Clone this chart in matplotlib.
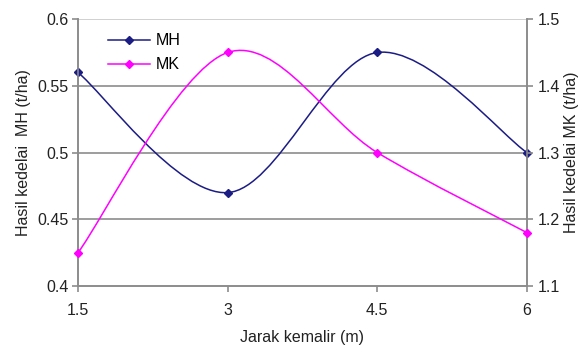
import matplotlib
matplotlib.use("Agg")
import matplotlib.pyplot as plt
from matplotlib.path import Path
from matplotlib.patches import PathPatch
from matplotlib.lines import Line2D

plt.rcParams['font.family'] = ['Liberation Sans', 'DejaVu Sans']

jarak = ["1.5", "3", "4.5", "6"]
mh = [0.56, 0.47, 0.575, 0.50]
mk = [1.15, 1.45, 1.30, 1.18]

MH_COLOR = "#1c1c85"
MK_COLOR = "#ff00ff"
GRID = "#8c8c8c"
FS = 11.5


def smooth_path(xs, ys):
    # Excel-like smoothed line: Catmull-Rom segments as cubic Bezier
    pts = list(zip(xs, ys))
    verts = [pts[0]]
    codes = [Path.MOVETO]
    n = len(pts)
    for i in range(n - 1):
        p0 = pts[i - 1] if i > 0 else pts[i]
        p1 = pts[i]
        p2 = pts[i + 1]
        p3 = pts[i + 2] if i + 2 < n else pts[i + 1]
        c1 = (p1[0] + (p2[0] - p0[0]) / 6, p1[1] + (p2[1] - p0[1]) / 6)
        c2 = (p2[0] - (p3[0] - p1[0]) / 6, p2[1] - (p3[1] - p1[1]) / 6)
        verts += [c1, c2, p2]
        codes += [Path.CURVE4] * 3
    return Path(verts, codes)


fig = plt.figure(figsize=(5.8, 3.54), dpi=100)
ax = fig.add_axes([0.1345, 0.192, 0.774, 0.754])
ax2 = ax.twinx()

x = list(range(len(jarak)))

ax.add_patch(PathPatch(smooth_path(x, mh), fc="none", ec=MH_COLOR, lw=1.1, zorder=3))
ax.plot(x, mh, ls="none", marker="D", ms=4.3, color=MH_COLOR, zorder=4, clip_on=False)
ax2.add_patch(PathPatch(smooth_path(x, mk), fc="none", ec=MK_COLOR, lw=1.1, zorder=3))
ax2.plot(x, mk, ls="none", marker="D", ms=4.3, color=MK_COLOR, zorder=4, clip_on=False)

ax.set_xlim(0, len(jarak) - 1)
ax.set_ylim(0.4, 0.6)
ax.set_yticks([0.4, 0.45, 0.5, 0.55, 0.6])
ax.set_yticklabels(["0.4", "0.45", "0.5", "0.55", "0.6"])
ax2.set_ylim(1.1, 1.5)
ax2.set_yticks([1.1, 1.2, 1.3, 1.4, 1.5])
ax2.set_yticklabels(["1.1", "1.2", "1.3", "1.4", "1.5"])
ax.set_xticks(x)
ax.set_xticklabels(jarak)

for v in [0.45, 0.5, 0.55]:
    ax.axhline(v, color=GRID, lw=1.2, zorder=1)
ax.axhline(0.6, color="#c8c8c8", lw=1.2, zorder=1)

for a in (ax, ax2):
    for s in a.spines.values():
        s.set_color(GRID)
        s.set_linewidth(1.2)
    a.spines["top"].set_visible(False)
    a.tick_params(colors=GRID, labelcolor="#222222", labelsize=FS, length=4, width=1.2)
ax.tick_params(axis="y", pad=3)
ax.tick_params(axis="x", pad=8)

ax.set_ylabel("Hasil kedelai  MH (t/ha)", fontsize=FS, labelpad=4, color="#222222")
ax2.set_ylabel("Hasil kedelai MK (t/ha)", fontsize=FS, labelpad=3, color="#222222", rotation=90)
ax.set_xlabel("Jarak kemalir (m)", fontsize=FS, labelpad=9, color="#222222")

handles = [
    Line2D([], [], color=MH_COLOR, marker="D", ms=4.3, lw=1.1),
    Line2D([], [], color=MK_COLOR, marker="D", ms=4.3, lw=1.1),
]
ax2.legend(handles, ["MH", "MK"], loc="upper left", bbox_to_anchor=(0.035, 1.0),
           frameon=False, fontsize=FS, handlelength=2.6, labelspacing=0.55,
           handletextpad=0.4)

fig.savefig("out.png", dpi=100)
